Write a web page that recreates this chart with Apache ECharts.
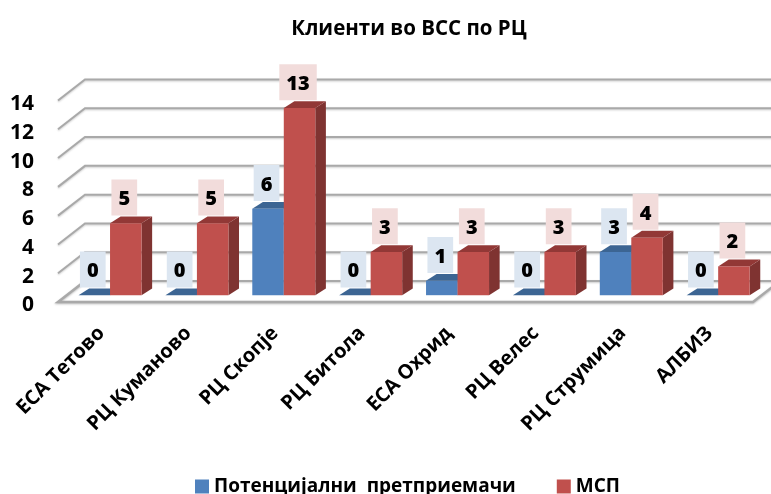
<!DOCTYPE html>
<html>
<head>
<meta charset="utf-8">
<style>html,body{margin:0;padding:0;background:#fff}#c{width:771px;height:494px;filter:blur(0.4px)}</style>
<script src="https://cdn.jsdelivr.net/npm/echarts@6/dist/echarts.min.js"></script>
</head>
<body>
<div id="c"></div>
<script>
var categories = ['ЕСА Тетово','РЦ Куманово','РЦ Скопје','РЦ Битола','ЕСА Охрид','РЦ Велес','РЦ Струмица','АЛБИЗ'];
var potencijalni = [0,0,6,0,1,0,3,0];
var msp = [5,5,13,3,3,3,4,2];
var yTicks = [0,2,4,6,8,10,12,14];
var FONT = '"Open Sans","Noto Sans",sans-serif';
var WALL = [27,-21], SHIFT = [8.6,-6.8], DEPTH = [10.6,-6.8], BW = 31.5;

function barItem(side, front, top, dark, labelBg){
  return function(params, api){
    var v = api.value(1);
    var c = api.coord([api.value(0), v]);
    var b = api.coord([api.value(0), 0]);
    var x0 = c[0] + SHIFT[0] + (side < 0 ? -BW : 0);
    var x1 = x0 + BW;
    var yT = c[1] + SHIFT[1], yB = b[1] + SHIFT[1];
    var dx = DEPTH[0], dy = DEPTH[1];
    var kids = [];
    kids.push({type:'polygon',shape:{points:[[x1,yT],[x1+dx,yT+dy],[x1+dx,yB+dy],[x1,yB]]},style:{fill:dark}});
    kids.push({type:'polygon',shape:{points:[[x0,yT],[x0+dx,yT+dy],[x1+dx,yT+dy],[x1,yT]]},style:{fill:top}});
    if (v > 0) kids.push({type:'rect',shape:{x:x0,y:yT,width:BW,height:yB-yT},style:{fill:front}});
    kids.push({type:'text',z2:20,style:{
      text:String(v), x:(x0+x1)/2-1.5, y:yT+dy-1,
      align:'center', verticalAlign:'bottom',
      font:'800 20px '+FONT, fill:'#000', lineHeight:20,
      backgroundColor:labelBg, padding:[10,7,6,7]
    }});
    return {type:'group',children:kids};
  };
}

function wallItem(params, api){
  var g = params.coordSys;
  var y = api.coord([0, api.value(0)])[1];
  var x0 = g.x, x1 = g.x + g.width;
  var isZero = api.value(0) === 0;
  var kids = [];
  if (isZero) {
    kids.push({type:'polyline',shape:{points:[[x0+WALL[0],y+WALL[1]],[x0,y],[x1,y],[x1+WALL[0],y+WALL[1]]]},
      style:{fill:'none',stroke:'#a9a9a9',lineWidth:2.5,shadowColor:'rgba(0,0,0,0.25)',shadowBlur:2,shadowOffsetY:1}});
    kids.push({type:'line',shape:{x1:x0+WALL[0],y1:y+WALL[1],x2:x1+WALL[0],y2:y+WALL[1]},
      style:{stroke:'#a9a9a9',lineWidth:2,shadowColor:'rgba(0,0,0,0.2)',shadowBlur:2,shadowOffsetY:1}});
  } else {
    kids.push({type:'polyline',shape:{points:[[x0,y],[x0+WALL[0],y+WALL[1]],[x1+WALL[0]+20,y+WALL[1]]]},
      style:{fill:'none',stroke:'#a9a9a9',lineWidth:2,shadowColor:'rgba(0,0,0,0.2)',shadowBlur:2,shadowOffsetY:1}});
  }
  return {type:'group',children:kids};
}

var chart = echarts.init(document.getElementById('c'), null, {renderer:'canvas'});
chart.setOption({
  animation:false,
  backgroundColor:'#fff',
  title:{text:'Клиенти во ВСС по РЦ',left:404,top:14,textAlign:'center',
    textStyle:{fontFamily:FONT,fontWeight:'bold',fontSize:20.5,color:'#000'}},
  grid:{left:58,top:100.5,width:695,height:201.5,containLabel:false},
  xAxis:{type:'category',data:categories,axisLine:{show:false},axisTick:{show:false},splitLine:{show:false},
    axisLabel:{rotate:45,interval:0,margin:28,fontFamily:FONT,fontWeight:'bold',fontSize:20,color:'#000'}},
  yAxis:{type:'value',min:0,max:14,interval:2,axisLine:{show:false},axisTick:{show:false},splitLine:{show:false},
    axisLabel:{margin:24,verticalAlign:'top',lineHeight:7,fontFamily:FONT,fontWeight:'bold',fontSize:21,color:'#000'}},
  legend:{left:190,top:472,itemWidth:14,itemHeight:14,itemGap:41,icon:'rect',
    data:['Потенцијални  претприемачи','МСП'],
    textStyle:{fontFamily:FONT,fontWeight:'bold',fontSize:19,color:'#000'}},
  series:[
    {type:'custom',name:'walls',coordinateSystem:'cartesian2d',silent:true,z:1,
      renderItem:wallItem,data:yTicks.map(function(t){return [t];}),encode:{y:0},clip:false},
    {type:'custom',name:'Потенцијални  претприемачи',coordinateSystem:'cartesian2d',z:2,
      itemStyle:{color:'#4f81bd'},
      renderItem:barItem(-1,'#4f81bd','#3c6593','#3a5f8b','#dce6f1'),
      data:potencijalni.map(function(v,i){return [i,v];}),encode:{x:0,y:1},clip:false},
    {type:'custom',name:'МСП',coordinateSystem:'cartesian2d',z:3,
      itemStyle:{color:'#c0504d'},
      renderItem:barItem(1,'#c0504d','#923836','#7f3331','#f2dcdb'),
      data:msp.map(function(v,i){return [i,v];}),encode:{x:0,y:1},clip:false}
  ]
});
</script>
</body>
</html>
